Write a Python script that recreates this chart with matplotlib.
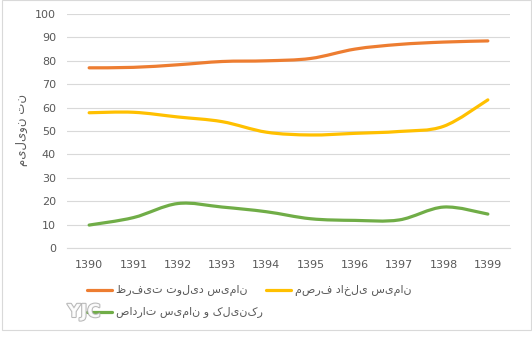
import matplotlib
matplotlib.use("Agg")
import matplotlib.pyplot as plt
from matplotlib.path import Path
from matplotlib.patches import PathPatch, Rectangle
from matplotlib.lines import Line2D
import numpy as np

years = ["1390", "1391", "1392", "1393", "1394", "1395", "1396", "1397", "1398", "1399"]
capacity = [77.0, 77.2, 78.3, 79.7, 80.0, 81.0, 85.0, 87.0, 88.0, 88.5]
domestic = [57.8, 58.0, 56.0, 54.0, 49.5, 48.3, 49.0, 49.8, 52.0, 63.3]
exports = [9.8, 13.0, 19.0, 17.5, 15.5, 12.5, 11.8, 12.0, 17.5, 14.5]
names = ["ظرفیت تولید سیمان", "مصرف داخلی سیمان", "صادرات سیمان و کلینکر"]
colors = ["#ED7D31", "#FFC000", "#70AD47"]
ylabel = "میلیون تن"

W, H = 532, 351
fig = plt.figure(figsize=(W / 100, H / 100), dpi=100)
ax = fig.add_axes([67 / W, 1 - 248 / H, (510 - 67) / W, (248 - 14) / H])

def smooth_path(xs, ys):
    pts = np.column_stack([xs, ys]).astype(float)
    n = len(pts)
    verts = [pts[0]]
    codes = [Path.MOVETO]
    for i in range(n - 1):
        p0 = pts[i - 1] if i > 0 else pts[i]
        p1 = pts[i]
        p2 = pts[i + 1]
        p3 = pts[i + 2] if i + 2 < n else pts[i + 1]
        c1 = p1 + (p2 - p0) / 6.0
        c2 = p2 - (p3 - p1) / 6.0
        verts += [c1, c2, p2]
        codes += [Path.CURVE4] * 3
    return Path(verts, codes)

x = np.arange(len(years))
for vals, c in zip([capacity, domestic, exports], colors):
    ax.add_patch(PathPatch(smooth_path(x, vals), fill=False, edgecolor=c,
                           lw=2.3, capstyle="round", joinstyle="round", zorder=3))

ax.set_xlim(-0.5, len(years) - 0.5)
ax.set_ylim(0, 100)
ax.set_yticks(range(0, 101, 10))
ax.set_xticks(x)
ax.set_xticklabels(years)
ax.grid(axis="y", color="#d9d9d9", lw=0.8)
ax.set_axisbelow(True)
for s in ["top", "right", "left"]:
    ax.spines[s].set_visible(False)
ax.spines["bottom"].set_color("#d9d9d9")
ax.spines["bottom"].set_linewidth(0.8)
ax.tick_params(axis="both", length=0, labelsize=8, labelcolor="#595959", pad=6)
ax.tick_params(axis="x", pad=9)
ax.tick_params(axis="y", pad=8)

fig.text(22 / W, 1 - 130 / H, ylabel, rotation=90, ha="center", va="center",
         fontsize=8.5, color="#595959", family="DejaVu Sans")

# legend
entries = [(87, 290), (266, 290), (87, 312)]
for (lx, ly), name, c in zip(entries, names, colors):
    fig.add_artist(Line2D([lx / W, (lx + 25) / W], [1 - ly / H, 1 - ly / H],
                          color=c, lw=2.3, solid_capstyle="round"))
    fig.text((lx + 29) / W, 1 - ly / H, name, ha="left", va="center",
             fontsize=8, color="#595959", family="DejaVu Sans")

# watermark
fig.text(84 / W, 1 - 312 / H, "YJC", ha="center", va="center", fontsize=13,
         fontweight="bold", color="white", alpha=0.9,
         path_effects=[__import__("matplotlib.patheffects", fromlist=["x"]).withStroke(linewidth=1.5, foreground="#b0b0b0")])

# outer frame
fig.add_artist(Rectangle((2 / W, 1 - 330 / H), 529 / W, 330 / H, transform=fig.transFigure,
                         fill=False, edgecolor="#d9d9d9", lw=0.8))

fig.savefig("out.png", dpi=100)
